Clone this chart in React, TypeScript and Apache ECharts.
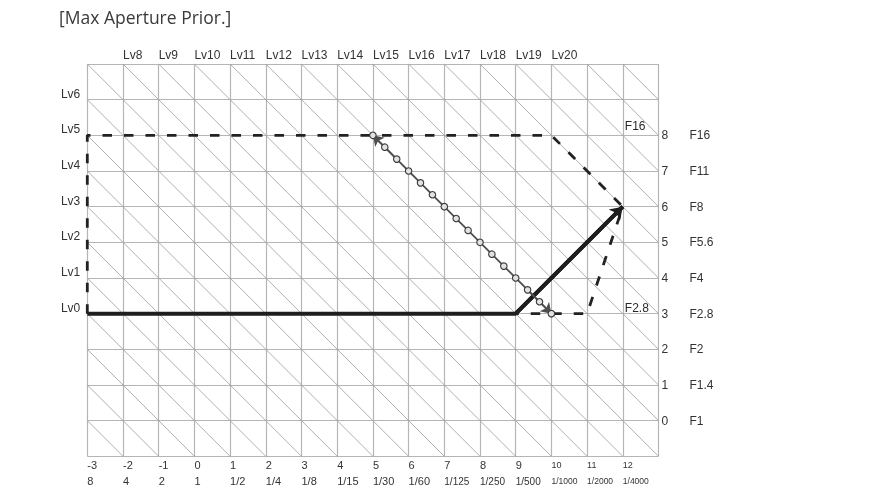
import React, { useEffect, useRef } from "react";
import * as echarts from "echarts";

// Bottom axis: Ev of shutter (Tv) and shutter speed
const tvTicks = ["-3", "-2", "-1", "0", "1", "2", "3", "4", "5", "6", "7", "8", "9", "10", "11", "12"];
const shutterSpeeds = ["8", "4", "2", "1", "1/2", "1/4", "1/8", "1/15", "1/30", "1/60", "1/125", "1/250", "1/500", "1/1000", "1/2000", "1/4000"];
// Right axis: Av and f-number (Av 0..8)
const avTicks = ["0", "1", "2", "3", "4", "5", "6", "7", "8"];
const fNumbers = ["F1", "F1.4", "F2", "F2.8", "F4", "F5.6", "F8", "F11", "F16"];
// Left axis Lv labels (at Av 3..9 on left edge Tv=-3)
const lvLeft = ["Lv0", "Lv1", "Lv2", "Lv3", "Lv4", "Lv5", "Lv6"];
// Top axis Lv labels (at Tv -2..10 on top edge Av=10)
const lvTop = ["Lv8", "Lv9", "Lv10", "Lv11", "Lv12", "Lv13", "Lv14", "Lv15", "Lv16", "Lv17", "Lv18", "Lv19", "Lv20"];

// Program line (thick solid)
const progTv = [-3, 9, 12];
const progAv = [3, 3, 6];
// Range (thick dashed)
const rangeTv = [-3, -3, 10, 12, 11, 9];
const rangeAv = [3, 8, 8, 6, 3, 3];
// Program shift line (1/3 EV steps)
const shiftTv = [5, 5.333, 5.667, 6, 6.333, 6.667, 7, 7.333, 7.667, 8, 8.333, 8.667, 9, 9.333, 9.667, 10];
const shiftAv = [8, 7.667, 7.333, 7, 6.667, 6.333, 6, 5.667, 5.333, 5, 4.667, 4.333, 4, 3.667, 3.333, 3];
// Aperture limit notes
const noteTv = [12, 12];
const noteAv = [8, 3];
const noteText = ["F16", "F2.8"];

const TV_MIN = -3, TV_MAX = 13, AV_MIN = -1, AV_MAX = 10;
const FONT = "'Liberation Sans', Arial, sans-serif";
const TXT = "#333";

export default function App() {
  const ref = useRef<HTMLDivElement>(null);
  useEffect(() => {
    if (!ref.current) return;
    const chart = echarts.init(ref.current, undefined, { renderer: "svg" });

    const diagonals: any[] = [];
    for (let c = TV_MIN + AV_MIN; c <= TV_MAX + AV_MAX; c++) {
      const x1 = Math.max(TV_MIN, c - AV_MAX);
      const x2 = Math.min(TV_MAX, c - AV_MIN);
      if (x2 > x1) diagonals.push({ coords: [[x1, c - x1], [x2, c - x2]] });
    }

    const zip = (a: number[], b: number[]) => a.map((v, i) => [v, b[i]]);
    const n = shiftTv.length;

    chart.setOption({
      animation: false,
      title: {
        text: "[Max Aperture Prior.]",
        left: 59,
        top: 8,
        padding: 0,
        textStyle: { fontFamily: "'Open Sans', sans-serif", fontSize: 17.5, fontWeight: "normal", color: "#3a3a3a" },
      },
      grid: { left: 87.3, top: 64, width: 571.2, height: 392.3, containLabel: false },
      xAxis: [
        {
          type: "value", min: TV_MIN, max: TV_MAX, interval: 1,
          axisLine: { show: false }, axisTick: { show: false },
          splitLine: { show: true, lineStyle: { color: "#b5b5b5", width: 1.2 } },
          axisLabel: {
            align: "left", margin: 1, color: TXT, fontFamily: FONT,
            formatter: (v: number) => {
              const i = Math.round(v) - TV_MIN;
              if (i < 0 || i >= tvTicks.length) return "";
              const t = tvTicks[i], s = shutterSpeeds[i];
              const ta = Number(t) >= 10 ? "as" : "a";
              const sb = s.length >= 6 ? "bs" : s.length === 5 ? "bm" : "b";
              return `{${ta}|${t}}\n{${sb}|${s}}`;
            },
            rich: {
              a: { fontSize: 11, lineHeight: 16, color: TXT, fontFamily: FONT },
              as: { fontSize: 9, lineHeight: 16, color: TXT, fontFamily: FONT },
              b: { fontSize: 11, lineHeight: 16, color: TXT, fontFamily: FONT },
              bm: { fontSize: 10, lineHeight: 16, color: TXT, fontFamily: FONT },
              bs: { fontSize: 8.5, lineHeight: 16, color: TXT, fontFamily: FONT },
            },
          },
        },
        {
          type: "value", position: "top", min: TV_MIN, max: TV_MAX, interval: 1,
          axisLine: { show: false }, axisTick: { show: false }, splitLine: { show: false },
          axisLabel: {
            align: "left", margin: 3, fontSize: 12, color: TXT, fontFamily: FONT,
            formatter: (v: number) => {
              const i = Math.round(v) + 2;
              return i >= 0 && i < lvTop.length ? lvTop[i] : "";
            },
          },
        },
      ],
      yAxis: [
        {
          type: "value", min: AV_MIN, max: AV_MAX, interval: 1,
          axisLine: { show: false }, axisTick: { show: false },
          splitLine: { show: true, lineStyle: { color: "#b5b5b5", width: 1.2 } },
          axisLabel: {
            margin: 7, fontSize: 12, color: TXT, fontFamily: FONT, verticalAlign: "bottom",
            formatter: (v: number) => {
              const i = Math.round(v) - 3;
              return i >= 0 && i < lvLeft.length ? lvLeft[i] : "";
            },
          },
        },
        {
          type: "value", position: "right", min: AV_MIN, max: AV_MAX, interval: 1,
          axisLine: { show: false }, axisTick: { show: false }, splitLine: { show: false },
          axisLabel: {
            margin: 3, color: TXT, fontFamily: FONT,
            formatter: (v: number) => {
              const i = Math.round(v);
              return i >= 0 && i < avTicks.length ? `{n|${avTicks[i]}}{f|${fNumbers[i]}}` : "";
            },
            rich: {
              n: { width: 28, fontSize: 12, color: TXT, fontFamily: FONT },
              f: { fontSize: 12, color: TXT, fontFamily: FONT },
            },
          },
        },
      ],
      series: [
        {
          type: "lines", coordinateSystem: "cartesian2d", silent: true, z: 1,
          lineStyle: { color: "#9c9c9c", width: 0.8, opacity: 1 },
          symbol: "none",
          data: diagonals,
        },
        {
          type: "line", data: zip(rangeTv, rangeAv), symbol: "none", z: 3, silent: true,
          lineStyle: { color: "#222", width: 2.8, type: [9.5, 12] },
        },
        {
          type: "line", data: zip(progTv, progAv), symbol: "none", z: 4, silent: true,
          lineStyle: { color: "#1e1e1e", width: 4 },
        },
        {
          type: "lines", coordinateSystem: "cartesian2d", silent: true, z: 4,
          symbol: ["none", "arrow"], symbolSize: 12,
          lineStyle: { color: "#1e1e1e", width: 4, opacity: 1 },
          data: [{ coords: [[progTv[1], progAv[1]], [progTv[2], progAv[2]]] }],
        },
        {
          type: "lines", coordinateSystem: "cartesian2d", silent: true, z: 5,
          symbol: ["none", "arrow"], symbolSize: 10,
          lineStyle: { color: "#4f4f4f", width: 1.8, opacity: 1 },
          data: [
            { coords: [[shiftTv[2], shiftAv[2]], [shiftTv[0], shiftAv[0]]] },
            { coords: [[shiftTv[n - 3], shiftAv[n - 3]], [shiftTv[n - 1], shiftAv[n - 1]]] },
          ],
        },
        {
          type: "line", data: zip(shiftTv, shiftAv), z: 6, silent: true,
          symbol: "circle", symbolSize: 6.5,
          lineStyle: { color: "#4f4f4f", width: 1.8 },
          itemStyle: { color: "#e2e2e2", borderColor: "#3a3a3a", borderWidth: 1.1 },
        },
        {
          type: "scatter", symbolSize: 0, z: 7, silent: true,
          itemStyle: { opacity: 1 },
          data: noteTv.map((t, i) => ({
            value: [t, noteAv[i]],
            label: { offset: [0, i === 0 ? -9 : -6] },
          })),
          label: {
            show: true, position: "right", distance: 2, fontSize: 12, color: "#2a2a2a", fontFamily: FONT,
            opacity: 1,
            formatter: (p: any) => noteText[p.dataIndex],
          },
        },
      ],
    });
    return () => chart.dispose();
  }, []);
  return <div ref={ref} style={{ position: "fixed", left: 0, top: 0, width: 877, height: 496 }} />;
}
